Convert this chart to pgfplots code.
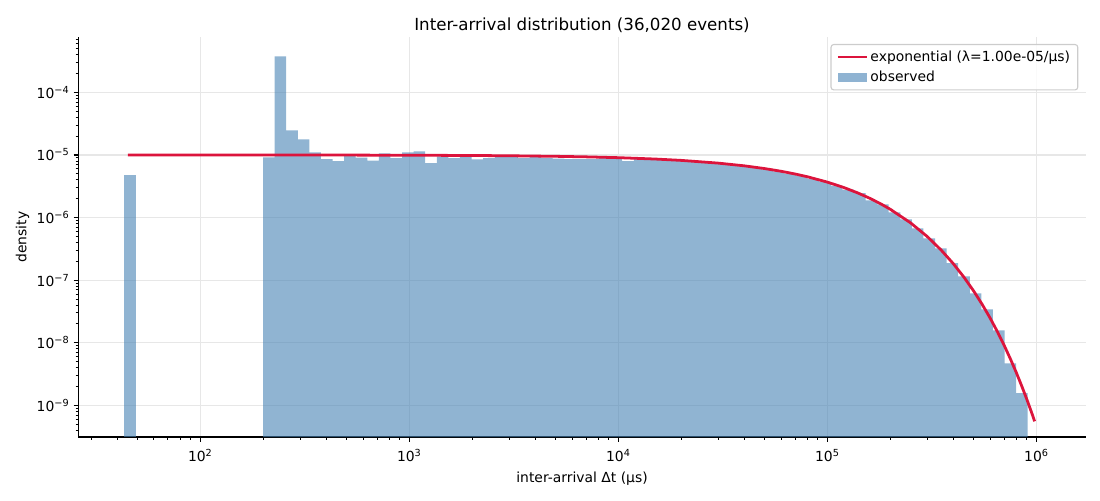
\documentclass[border=0pt]{standalone}
\usepackage{fontspec}
\setmainfont{DejaVu Sans}
\usepackage{pgfplots}
\pgfplotsset{compat=1.18}
\definecolor{barblue}{RGB}{70,130,180}
\definecolor{crimson}{RGB}{220,20,60}
\definecolor{gridgray}{RGB}{231,231,231}
\definecolor{legframe}{RGB}{204,204,204}
\newcommand{\logticklabel}[1]{\pgfmathparse{round(#1/ln(10))}\pgfmathtruncatemacro\ex{\pgfmathresult}10\textsuperscript{\ifnum\ex<0 −\number-\ex\else\ex\fi}}
\begin{document}
\begin{tikzpicture}
\useasboundingbox (-56.4pt,-45.36pt) rectangle (735.6pt,314.64pt);
\begin{axis}[
  at={(0,0)}, anchor=south west,
  scale only axis, width=725.3pt, height=287.8pt,
  xmode=log, ymode=log,
  xmin=26.1, xmax=1.72e6, ymin=3.11e-10, ymax=7.59e-4,
  log origin y=infty,
  axis x line*=bottom, axis y line*=left,
  x axis line style={-, line width=0.8pt},
  y axis line style={-, line width=0.8pt},
  tick align=outside,
  xtick pos=bottom, ytick pos=left,
  major tick length=3.5pt, minor tick length=2pt,
  every tick/.style={black, line width=0.8pt},
  every minor tick/.style={black, line width=0.6pt},
  xtick={1e2,1e3,1e4,1e5,1e6},
  minor xtick={30,40,50,60,70,80,90,200,300,400,500,600,700,800,900,
    2000,3000,4000,5000,6000,7000,8000,9000,
    20000,30000,40000,50000,60000,70000,80000,90000,
    200000,300000,400000,500000,600000,700000,800000,900000},
  ytick={1e-9,1e-8,1e-7,1e-6,1e-5,1e-4},
  minor ytick={4e-10,5e-10,6e-10,7e-10,8e-10,9e-10,
    2e-9,3e-9,4e-9,5e-9,6e-9,7e-9,8e-9,9e-9,
    2e-8,3e-8,4e-8,5e-8,6e-8,7e-8,8e-8,9e-8,
    2e-7,3e-7,4e-7,5e-7,6e-7,7e-7,8e-7,9e-7,
    2e-6,3e-6,4e-6,5e-6,6e-6,7e-6,8e-6,9e-6,
    2e-5,3e-5,4e-5,5e-5,6e-5,7e-5,8e-5,9e-5,
    2e-4,3e-4,4e-4,5e-4,6e-4,7e-4},
  xticklabel={\logticklabel{\tick}},
  yticklabel={\logticklabel{\tick}},
  tick label style={font=\fontsize{10}{12}\selectfont},
  xticklabel style={yshift=-2pt},
  yticklabel style={xshift=0.6pt},
  grid=major,
  major grid style={gridgray, line width=0.8pt},
  minor grid style={draw=none},
  title={Inter-arrival distribution (36,020 events)},
  title style={font=\fontsize{12}{14}\selectfont, at={(axis description cs:0.5,1)}, anchor=base, yshift=-1pt},
  xlabel={inter-arrival Δt (μs)},
  xlabel style={font=\fontsize{10}{12}\selectfont, at={(axis description cs:0.5,0)}, anchor=base, yshift=-32.4pt},
  ylabel={density},
  ylabel style={font=\fontsize{10}{12}\selectfont, at={(axis description cs:-0.0554,0.5)}, anchor=center},
  reverse legend,
  legend cell align=left,
  legend style={at={(axis description cs:1,1)}, anchor=north east, xshift=-5.3pt, yshift=-4.8pt,
    draw=legframe, line width=0.8pt, rounded corners=2pt, fill=white, fill opacity=0.8, text opacity=1,
    font=\fontsize{10}{12}\selectfont, row sep=2.5pt, inner xsep=4pt, inner ysep=3pt,
    nodes={inner sep=1.5pt}},
]
% observed histogram, first isolated bin
\addplot[ybar interval, fill=barblue, fill opacity=0.6, draw=none, forget plot]
coordinates {(43.16,4.72e-6) (49.04,4.72e-6)};
% observed histogram, main bins
\addplot[ybar interval, fill=barblue, fill opacity=0.6, draw=none,
  legend image code/.code={\fill[barblue, fill opacity=0.6, sharp corners] (0pt,-3.4pt) rectangle (20.9pt,3.4pt);}]
coordinates {
(199.6,9.15e-6) (226.8,3.76e-4) (257.6,2.47e-5) (292.7,1.77e-5) (332.5,1.10e-5)
(377.8,8.6e-6) (429.2,8.0e-6) (487.6,9.6e-6) (554.0,9.1e-6) (629.4,8.1e-6)
(715.1,1.06e-5) (812.4,8.9e-6) (923.0,1.10e-5) (1048.7,1.14e-5) (1191.4,7.4e-6)
(1353.6,9.5e-6) (1537.9,8.9e-6) (1747.2,9.5e-6) (1985.0,8.5e-6) (2255.2,8.9e-6)
(2562.2,9.3e-6) (2911.0,9.3e-6) (3307.3,8.9e-6) (3757.5,9.3e-6) (4269.0,8.9e-6)
(4850.1,8.7e-6) (5510.3,8.6e-6) (6260.4,8.6e-6) (7112.6,8.6e-6) (8080.8,8.9e-6)
(9180.8,8.8e-6) (10430,8.0e-6) (11850,8.7e-6) (13463,8.5e-6) (15296,8.35e-6)
(17378,8.15e-6) (19744,7.95e-6) (22432,7.72e-6) (25485,7.48e-6) (28954,7.2e-6)
(32896,6.9e-6) (37374,6.58e-6) (42461,6.23e-6) (48241,5.86e-6) (54808,5.46e-6)
(62269,5.04e-6) (70745,4.6e-6) (80375,4.15e-6) (91316,3.7e-6) (103747,3.24e-6)
(117869,2.79e-6) (133914,2.45e-6) (152143,1.88e-6) (172853,1.62e-6) (196383,1.21e-6)
(223116,9.35e-7) (253488,6.72e-7) (287994,4.65e-7) (327197,3.22e-7) (371737,1.86e-7)
(422340,1.15e-7) (479831,6.15e-8) (545148,3.42e-8) (619356,1.58e-8) (703666,4.69e-9)
(799452,1.56e-9) (908279,1.56e-9)
};
\addlegendentry{observed}
% exponential fit
\addplot[crimson, line width=2pt, no marks,
  legend image code/.code={\draw[crimson, line width=2pt, sharp corners] (0pt,0pt) -- (20.9pt,0pt);}]
coordinates {
(45,9.9955e-6) (100,9.990e-6) (200,9.980e-6) (500,9.950e-6) (1000,9.900e-6)
(2000,9.802e-6) (3000,9.704e-6) (5000,9.512e-6) (7000,9.324e-6) (10000,9.048e-6)
(15000,8.607e-6) (20000,8.187e-6) (30000,7.408e-6) (40000,6.703e-6) (50000,6.065e-6)
(60000,5.488e-6) (70000,4.966e-6) (80000,4.493e-6) (100000,3.679e-6) (120000,3.012e-6)
(140000,2.466e-6) (160000,2.019e-6) (180000,1.653e-6) (200000,1.353e-6) (250000,8.21e-7)
(300000,4.979e-7) (350000,3.020e-7) (400000,1.832e-7) (450000,1.111e-7) (500000,6.738e-8)
(550000,4.087e-8) (600000,2.479e-8) (650000,1.503e-8) (700000,9.119e-9) (750000,5.531e-9)
(800000,3.355e-9) (850000,2.035e-9) (900000,1.234e-9) (950000,7.485e-10) (980000,5.545e-10)
};
\addlegendentry{exponential (λ=1.00e-05/μs)}
\end{axis}
\end{tikzpicture}
\end{document}
